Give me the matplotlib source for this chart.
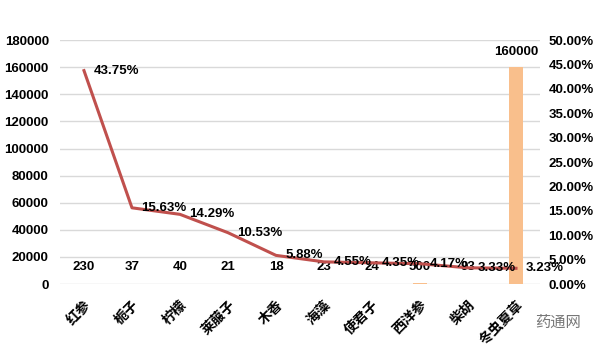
import matplotlib
matplotlib.use("Agg")
from matplotlib import pyplot as plt
from matplotlib.ticker import FuncFormatter

plt.rcParams['font.family'] = ['Noto Sans CJK SC', 'DejaVu Sans']

herbs = ["红参", "栀子", "柠檬", "莱菔子", "木香", "海藻", "使君子", "西洋参", "柴胡", "冬虫夏草"]
counts = [230, 37, 40, 21, 18, 23, 24, 500, 93, 160000]
pct = [43.75, 15.63, 14.29, 10.53, 5.88, 4.55, 4.35, 4.17, 3.33, 3.23]

bar_color = '#F9BF8C'
line_color = '#C0504D'
num_font = 'Liberation Sans'

fig = plt.figure(figsize=(5.98, 3.52), dpi=100)
ax1 = fig.add_axes([0.1003, 0.193, 0.8027, 0.693])
x = list(range(len(herbs)))

ax1.bar(x, counts, width=0.3, color=bar_color, zorder=2)
ax1.set_ylim(0, 180000)
ax1.set_xlim(-0.5, len(herbs) - 0.5)
ax1.set_yticks(range(0, 180001, 20000))
ax1.grid(axis='y', color='#D9D9D9', linewidth=1, zorder=0)
ax1.set_axisbelow(True)
for s in ax1.spines.values():
    s.set_visible(False)
ax1.tick_params(axis='both', length=0)
ax1.tick_params(axis='y', pad=8)
for lab in ax1.get_yticklabels():
    lab.set_fontweight('bold')
    lab.set_fontsize(9.5)
    lab.set_family(num_font)
ax1.set_xticks(x)
ax1.set_xticklabels(herbs, rotation=45, ha='right', va='top', rotation_mode='anchor',
                    fontsize=10, fontweight='bold')
ax1.tick_params(axis='x', pad=10)

for i, c in enumerate(counts):
    yy = c + 7000 if c > 10000 else 8000
    ax1.text(i, yy, str(c), ha='center', va='bottom', fontsize=9.5, fontweight='bold',
             family=num_font, zorder=5)

ax2 = ax1.twinx()
ax2.plot(x, pct, color=line_color, linewidth=2.2, zorder=3)
ax2.set_ylim(0, 50)
ax2.set_yticks(range(0, 51, 5))
ax2.yaxis.set_major_formatter(FuncFormatter(lambda v, p: "%.2f%%" % v))
for s in ax2.spines.values():
    s.set_visible(False)
ax2.tick_params(axis='y', length=0, pad=6)
for lab in ax2.get_yticklabels():
    lab.set_fontweight('bold')
    lab.set_fontsize(9.5)
    lab.set_family(num_font)

for i, p in enumerate(pct):
    ax2.text(i + 0.2, p, "%.2f%%" % p, ha='left', va='center', fontsize=9.5,
             fontweight='bold', family=num_font, zorder=6)

fig.text(0.895, 0.085, "药通网", ha='left', va='center', fontsize=11, color='#777777')

fig.savefig("out.png", dpi=100)
